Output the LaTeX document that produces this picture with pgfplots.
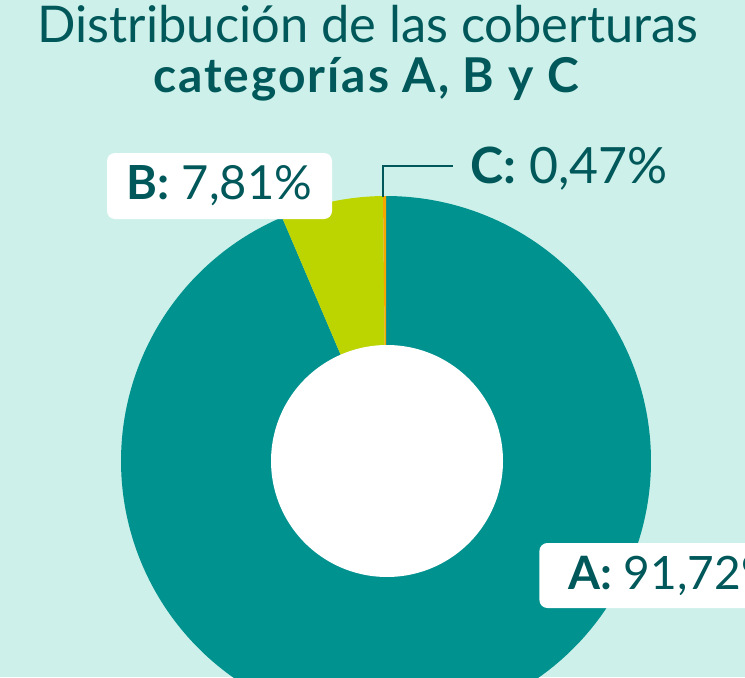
\documentclass[border=0pt]{standalone}
\usepackage{pgfplots}
\pgfplotsset{compat=1.18}
\usepackage{fontspec}
\setmainfont{Lato}
\definecolor{bg}{RGB}{205,241,234}
\definecolor{tealA}{RGB}{0,146,143}
\definecolor{limeB}{RGB}{188,212,0}
\definecolor{orangeC}{RGB}{247,166,0}
\definecolor{dark}{RGB}{0,88,90}
\begin{document}
\begin{tikzpicture}
\fill[bg] (0,0) rectangle (372.5pt,338.5pt);
\begin{axis}[at={(0,0)}, anchor=origin, x=0.5pt, y=0.5pt,
  xmin=0, xmax=745, ymin=0, ymax=677, hide axis, clip=true]
% donut wedges (angles in degrees, as drawn in the reference)
\addplot[fill=tealA, draw=none, domain=113.1:450, samples=300, variable=\t]
  ({386+265*cos(t)},{216+265*sin(t)}) -- (axis cs:386,216) -- cycle;
\addplot[fill=limeB, draw=none, domain=90.65:113.1, samples=40, variable=\t]
  ({386+265*cos(t)},{216+265*sin(t)}) -- (axis cs:386,216) -- cycle;
\addplot[fill=orangeC, draw=none, domain=90:90.65, samples=5, variable=\t]
  ({386+265*cos(t)},{216+265*sin(t)}) -- (axis cs:386,216) -- cycle;
\addplot[fill=white, draw=none, domain=0:360, samples=200, variable=\t]
  ({387+116*cos(t)},{216+116*sin(t)}) -- cycle;
% leader line for C
\addplot[dark, line width=1pt, no marks] coordinates {(383,480) (383,511) (453,511)};
% titles
\node[dark, font=\fontsize{25.3pt}{30pt}\selectfont, anchor=base, inner sep=0] at (axis cs:368,635) {Distribución de las coberturas};
\node[dark, font=\fontsize{24pt}{28pt}\selectfont\bfseries\addfontfeatures{LetterSpace=4}, anchor=base, inner sep=0] at (axis cs:366,585) {categorías A, B y C};
% labels
\node[fill=white, rounded corners=4pt, minimum width=112.5pt, minimum height=33pt, inner sep=0, text=dark,
  font=\fontsize{23.5pt}{28pt}\selectfont] at (axis cs:219.5,491) {\textbf{B:} 7,81\%};
\node[anchor=base west, inner sep=0, text=dark, font=\fontsize{25pt}{30pt}\selectfont] at (axis cs:470,494) {\textbf{C:} 0,47\%};
\node[fill=white, rounded corners=4pt, anchor=west, minimum height=32.5pt, inner ysep=0, inner xsep=14.5pt, text=dark,
  font=\fontsize{23pt}{28pt}\selectfont] at (axis cs:539,101.5) {\textbf{A:} 91,72\%};
\end{axis}
\pgfresetboundingbox
\path[use as bounding box] (0,0) rectangle (372.5pt,338.5pt);
\end{tikzpicture}
\end{document}
